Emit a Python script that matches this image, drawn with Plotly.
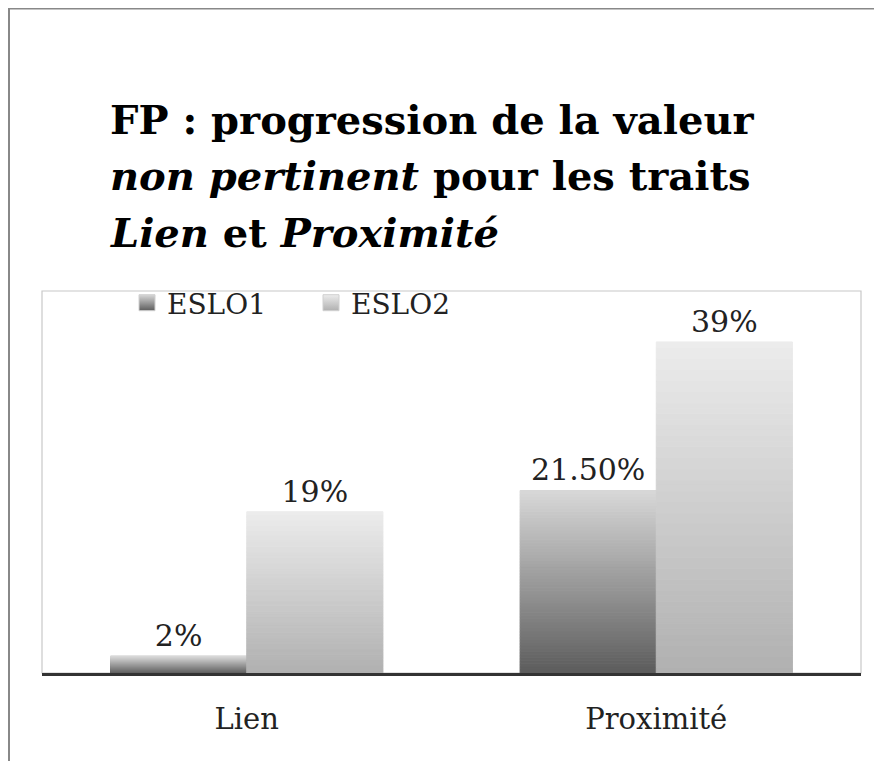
import plotly.graph_objects as go

categories = ["Lien", "Proximité"]
eslo1 = [2, 21.5]
eslo2 = [19, 39]
eslo1_labels = ["2%", "21.50%"]
eslo2_labels = ["19%", "39%"]
title_lines = [
    "<b>FP : progression de la valeur</b>",
    "<b><i>non pertinent</i> pour les traits</b>",
    "<b><i>Lien</i> et <i>Proximité</i></b>",
]

W, H = 882, 761
L, R, T, B = 34, 29, 283, 96
PW, PH = W - L - R, H - T - B
SERIF = "DejaVu Serif, serif"

N = 60  # slices per bar to fake the vertical gradient


def mix(c_bot, c_top, t):
    c = [round(a + (b - a) * t) for a, b in zip(c_bot, c_top)]
    return "rgb(%d,%d,%d)" % tuple(c)


fig = go.Figure()
series = [
    ("ESLO1", eslo1, eslo1_labels, (92, 92, 92), (216, 216, 216)),
    ("ESLO2", eslo2, eslo2_labels, (176, 176, 176), (236, 236, 236)),
]
for name, vals, labels, c_bot, c_top in series:
    for i in range(N):
        t = (i + 0.5) / N
        last = i == N - 1
        col = mix(c_bot, c_top, t)
        fig.add_trace(go.Bar(
            x=categories,
            y=[v / N for v in vals],
            base=[v * i / N for v in vals],
            offsetgroup=name,
            name=name,
            showlegend=False,
            marker=dict(color=col, line=dict(width=1, color=col)),
            text=labels if last else None,
            textposition="outside" if last else "none",
            textfont=dict(family=SERIF, size=30, color="#222"),
            cliponaxis=False,
            hoverinfo="skip",
        ))
    # legend entry with a gradient swatch
    fig.add_trace(go.Scatter(
        x=[None], y=[None], mode="markers", name=name,
        marker=dict(symbol="square", size=22, color=mix(c_bot, c_top, 1),
                    gradient=dict(type="vertical", color=mix(c_bot, c_top, 0)),
                    line=dict(width=1, color="#d0d0d0")),
    ))

annotations = []
for line, mid_y in zip(title_lines, [111, 168, 225]):
    annotations.append(dict(
        text=line, xref="paper", yref="paper",
        x=(100 - L) / PW, y=1 + (T - mid_y) / PH,
        xanchor="left", yanchor="middle", showarrow=False,
        font=dict(family=SERIF, size=40, color="black"),
    ))

fig.update_layout(
    width=W, height=H,
    margin=dict(l=L, r=R, t=T, b=B),
    paper_bgcolor="white", plot_bgcolor="white",
    barmode="group", bargap=0.335, bargroupgap=0,
    annotations=annotations,
    showlegend=True,
    legend=dict(
        orientation="h", x=85 / PW, xanchor="left", y=1 - 12 / PH, yanchor="middle",
        font=dict(family=SERIF, size=28, color="#222"),
        bgcolor="rgba(0,0,0,0)", entrywidth=139, entrywidthmode="pixels",
        traceorder="normal", itemsizing="trace",
    ),
    xaxis=dict(
        showline=True, linecolor="#333", linewidth=2.5, ticks="",
        tickfont=dict(family=SERIF, size=29, color="#222"),
        showgrid=False, ticklabelstandoff=18,
    ),
    yaxis=dict(
        range=[0, 45], showticklabels=False, showgrid=False,
        zeroline=False, showline=False, ticks="",
    ),
    shapes=[
        dict(type="rect", xref="paper", yref="paper", x0=0, x1=1, y0=0, y1=1,
             line=dict(color="#c8c8c8", width=1.2), layer="below"),
        dict(type="line", xref="paper", yref="paper",
             x0=-(L - 1) / PW, x1=-(L - 1) / PW,
             y0=-B / PH, y1=1 + T / PH,
             line=dict(color="#888", width=2)),
        dict(type="line", xref="paper", yref="paper",
             x0=-L / PW, x1=1 + R / PW,
             y0=1 + (T - 0.5) / PH, y1=1 + (T - 0.5) / PH,
             line=dict(color="#888", width=2)),
    ],
)

fig.write_html("out.html")
